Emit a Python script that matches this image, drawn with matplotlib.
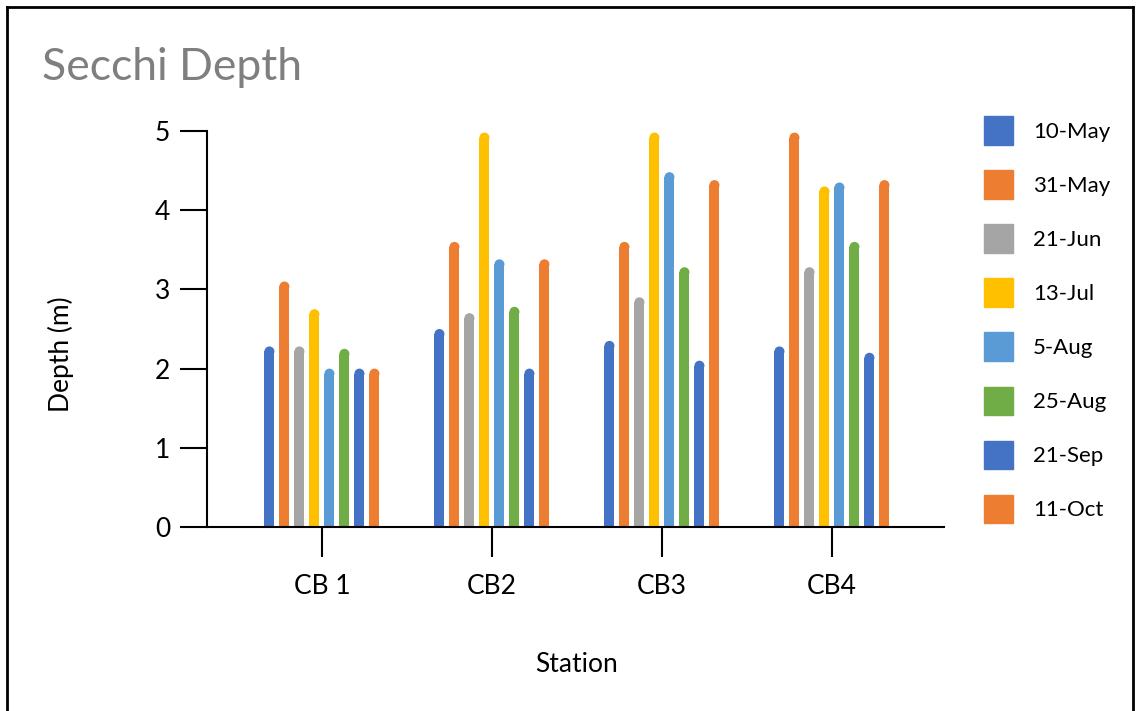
import numpy as np
import matplotlib.pyplot as plt
from matplotlib.patches import Ellipse, Rectangle, FancyBboxPatch
from matplotlib.lines import Line2D

plt.rcParams['font.family'] = ['Lato', 'DejaVu Sans']

stations = ['CB 1', 'CB2', 'CB3', 'CB4']
dates = ['10-May', '31-May', '21-Jun', '13-Jul', '5-Aug', '25-Aug', '21-Sep', '11-Oct']
colors = ['#4472C4', '#ED7D31', '#A5A5A5', '#FFC000', '#5B9BD5', '#70AD47', '#4472C4', '#ED7D31']

# depth per date, one value per station
depth = {
    '10-May': [2.28, 2.50, 2.35, 2.28],
    '31-May': [3.10, 3.60, 3.60, 4.98],
    '21-Jun': [2.28, 2.70, 2.90, 3.28],
    '13-Jul': [2.75, 4.98, 4.98, 4.30],
    '5-Aug':  [2.00, 3.38, 4.48, 4.35],
    '25-Aug': [2.25, 2.78, 3.28, 3.60],
    '21-Sep': [2.00, 2.00, 2.10, 2.20],
    '11-Oct': [2.00, 3.38, 4.38, 4.38],
}

W, H = 1137, 711
fig = plt.figure(figsize=(W / 100, H / 100), dpi=100)
ax = fig.add_axes([207 / W, 1 - 527 / H, (944 - 207) / W, (527 - 131) / H])

xlim = (-0.676, 3.659)
ylim = (0, 5)
ax.set_xlim(*xlim)
ax.set_ylim(*ylim)

# px per data unit, so the round caps look circular
px_x = (944 - 207) / (xlim[1] - xlim[0])
px_y = (527 - 131) / (ylim[1] - ylim[0])

step = 15 / px_x
bw = 10 / px_x
ry = (bw / 2) * px_x / px_y

x = np.arange(len(stations))
for i, d in enumerate(dates):
    xs = x + (i - 3.5) * step
    for xi, v in zip(xs, depth[d]):
        ax.add_patch(Rectangle((xi - bw / 2, 0), bw, v - ry, color=colors[i], lw=0, clip_on=False))
        ax.add_patch(Ellipse((xi, v - ry), bw, 2 * ry, color=colors[i], lw=0, clip_on=False))

for s in ['top', 'right']:
    ax.spines[s].set_visible(False)
ax.spines['left'].set_linewidth(1.5)
ax.spines['bottom'].set_linewidth(1.5)

ax.set_yticks([0, 1, 2, 3, 4, 5])
ax.set_xticks(x)
ax.set_xticklabels(stations)
ax.tick_params(axis='y', length=27 * 0.72, width=1.5, labelsize=19, pad=7)
ax.tick_params(axis='x', length=30 * 0.72, width=1.5, labelsize=19, pad=12)

ax.set_ylabel('Depth (m)', fontsize=19)
ax.yaxis.set_label_coords(-0.1805, 0.437)
ax.set_xlabel('Station', fontsize=19)
ax.xaxis.set_label_coords(0.502, -0.316)

fig.text(42 / W, 1 - 68 / H, 'Secchi Depth', fontsize=32, color='#7F7F7F', va='center', ha='left')

handles = [FancyBboxPatch((0, 0), 1, 1, color=c) for c in colors]
leg = fig.legend(handles, dates, loc='upper left', bbox_to_anchor=(964 / W, 1 - 96 / H),
                 frameon=False, fontsize=16, handlelength=1.3, handleheight=1.6,
                 labelspacing=1.15, handletextpad=0.9)

# outer frame
fig.add_artist(Line2D([7 / W, 7 / W], [0, 1 - 7 / H], color='black', lw=2, transform=fig.transFigure))
fig.add_artist(Line2D([7 / W, 1133 / W], [1 - 7 / H, 1 - 7 / H], color='black', lw=2, transform=fig.transFigure))
fig.add_artist(Line2D([1133 / W, 1133 / W], [0, 1 - 7 / H], color='black', lw=2, transform=fig.transFigure))

fig.savefig('out.png', dpi=100)
